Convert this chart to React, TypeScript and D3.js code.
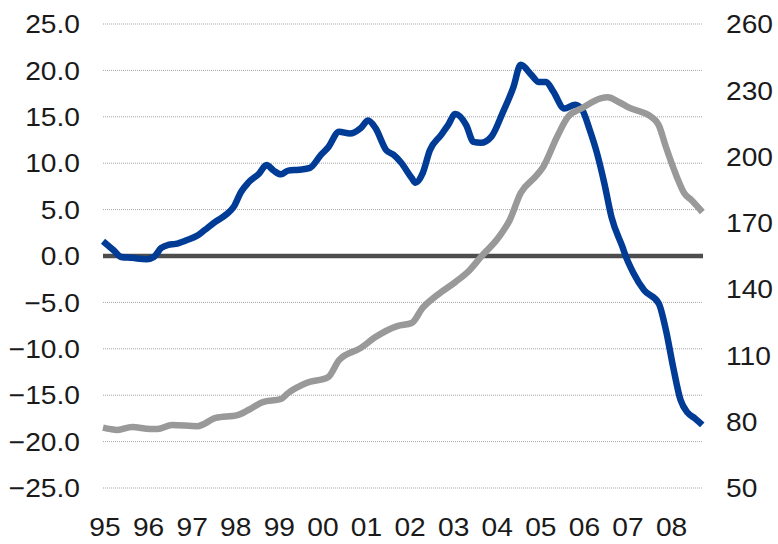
import React, { useEffect, useRef } from "react";
import * as d3 from "d3";

// months counted from Jan 1995
const blueMonths = [0, 3, 5, 8, 12, 14, 16, 18, 20, 23, 26, 28, 31, 34, 36, 38, 40, 43, 45, 47, 49, 51, 54, 57, 60, 62, 65, 68, 71, 73, 75, 78, 80, 82, 85, 86, 88, 90, 93, 95, 97, 100, 102, 104, 107, 110, 113, 115, 118, 120, 122, 124, 127, 130, 132, 134, 136, 138, 140, 143, 144, 146, 149, 153, 155, 157, 159, 161, 163, 165];
const blueValues = [1.6, 0.6, -0.1, -0.2, -0.35, -0.1, 0.85, 1.2, 1.3, 1.7, 2.2, 2.8, 3.7, 4.5, 5.3, 6.9, 7.9, 8.9, 9.8, 9.2, 8.8, 9.2, 9.3, 9.5, 10.9, 11.7, 13.4, 13.2, 13.8, 14.6, 13.8, 11.4, 10.9, 10.1, 8.4, 7.9, 8.9, 11.4, 13.0, 14.1, 15.3, 14.1, 12.3, 12.2, 12.9, 15.4, 18.2, 20.6, 19.5, 18.75, 18.75, 17.7, 15.9, 16.3, 15.7, 13.6, 11.1, 7.9, 4.2, 1.0, -0.1, -1.8, -3.7, -5.1, -8.0, -12.0, -15.5, -16.9, -17.5, -18.2];

const greyMonths = [0, 4, 8, 13, 15, 19, 26, 31, 37, 40, 44, 49, 51, 56, 62, 65, 71, 75, 81, 85, 88, 92, 97, 101, 104, 109, 112, 115, 119, 121, 125, 128, 132, 137, 139, 142, 145, 151, 153, 155, 158, 160, 162, 165];
const greyValues = [77.3, 76.3, 77.6, 76.7, 76.7, 78.5, 78.0, 81.7, 83.0, 85.3, 88.9, 90.3, 93.0, 97.5, 100.2, 107.9, 113.4, 118.3, 123.3, 124.7, 131.5, 137.3, 143.2, 148.7, 154.5, 163.6, 171.3, 183.5, 190.8, 194.8, 208.9, 217.9, 222.0, 226.3, 226.8, 224.7, 222.0, 217.9, 214.3, 204.3, 190.8, 183.5, 180.3, 174.9];

const leftTicks = [25, 20, 15, 10, 5, 0, -5, -10, -15, -20, -25];
const rightTicks = [260, 230, 200, 170, 140, 110, 80, 50];
const yearLabels = ["95", "96", "97", "98", "99", "00", "01", "02", "03", "04", "05", "06", "07", "08"];

export default function App() {
  const ref = useRef<SVGSVGElement>(null);

  useEffect(() => {
    const svg = d3.select(ref.current);
    svg.selectAll("*").remove();

    const left = 103, right = 703, top = 24, bottom = 488;
    const x = d3.scaleLinear().domain([0, 165.2]).range([left, right]);
    const yL = d3.scaleLinear().domain([-25, 25]).range([bottom, top]);
    const yR = d3.scaleLinear().domain([50, 260]).range([bottom, top]);
    const font = "'Liberation Sans', Arial, sans-serif";

    // dotted gridlines
    svg.append("g")
      .selectAll("line")
      .data(leftTicks.filter((d) => d !== 0))
      .enter()
      .append("line")
      .attr("x1", left)
      .attr("x2", right)
      .attr("y1", (d) => yL(d))
      .attr("y2", (d) => yL(d))
      .attr("stroke", "#a6a6a6")
      .attr("stroke-width", 1)
      .attr("stroke-dasharray", "1,1");

    svg.append("line")
      .attr("x1", left)
      .attr("x2", right)
      .attr("y1", yL(0))
      .attr("y2", yL(0))
      .attr("stroke", "#4d4d4d")
      .attr("stroke-width", 4.5);

    const labelText = (g, data, xPos, yPos, text, anchor) => {
      g.selectAll("text")
        .data(data)
        .enter()
        .append("text")
        .attr("transform", (d, i) => `translate(${xPos(d, i)},${yPos(d, i)}) scale(1.1,1)`)
        .attr("dy", "0.36em")
        .attr("text-anchor", anchor)
        .attr("font-family", font)
        .attr("font-size", 25.6)
        .attr("fill", "#1a1a1a")
        .text(text);
    };

    labelText(svg.append("g"), leftTicks, () => 80, (d) => yL(d), (d) => d3.format(".1f")(d), "end");
    labelText(svg.append("g"), rightTicks, () => 726, (d) => yR(d), (d) => d, "start");
    labelText(svg.append("g"), yearLabels, (d, i) => x(i * 12) + 2, () => 527, (d) => d, "middle");

    const blueLine = d3.line<number>()
      .x((d, i) => x(blueMonths[i]))
      .y((d) => yL(d))
      .curve(d3.curveMonotoneX);
    const greyLine = d3.line<number>()
      .x((d, i) => x(greyMonths[i]))
      .y((d) => yR(d))
      .curve(d3.curveMonotoneX);

    svg.append("path")
      .attr("d", blueLine(blueValues))
      .attr("fill", "none")
      .attr("stroke", "#003c96")
      .attr("stroke-width", 6.5)
      .attr("stroke-linejoin", "round");

    svg.append("path")
      .attr("d", greyLine(greyValues))
      .attr("fill", "none")
      .attr("stroke", "#999999")
      .attr("stroke-width", 6.5)
      .attr("stroke-linejoin", "round");
  }, []);

  return (
    <div style={{ position: "absolute", left: 0, top: 0 }}>
      <svg ref={ref} width={778} height={544} style={{ display: "block", background: "#fff" }} />
    </div>
  );
}
